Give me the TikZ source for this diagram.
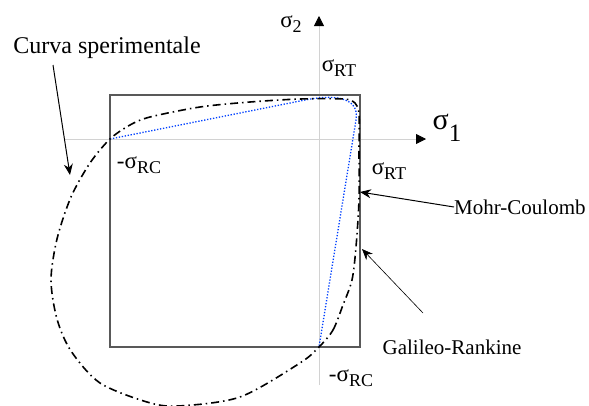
\documentclass[tikz,border=0pt]{standalone}
\usepackage{fontspec}
\setmainfont{Liberation Serif}
\usetikzlibrary{arrows.meta}
\newcommand{\sgm}[1]{σ\raisebox{-0.22em}{\fontsize{18}{18}\selectfont #1}}

\begin{document}
\begin{tikzpicture}[x=1pt, y=1pt, >={Stealth[length=11pt,width=9pt]},
    axis/.style={gray!35, line width=0.8pt},
    axtip/.style={-{Triangle[length=10pt,width=10pt,color=black]}},
    lbl/.style={font=\fontsize{23}{26}\selectfont, inner sep=0pt},
    note/.style={font=\fontsize{21}{25}\selectfont, inner sep=0pt}]
  \useasboundingbox (-319,-266) rectangle (270,139);
  \draw[axis, axtip] (-255,0) -- (107,0);
  \draw[axis, axtip] (0,-246) -- (0,123);
  \draw[gray!70!black, line width=1.5pt] (-209,-208) rectangle (41,44);
  \draw[blue!75!cyan, line width=1.3pt, dash pattern=on 1.3pt off 1.7pt]
        (-209,0) -- (-14,39) .. controls (11,44) and (41,44) .. (37,19) -- (0,-208);
  \draw[black, line width=1.6pt, dash pattern=on 8pt off 4pt on 1.5pt off 4pt]
        plot[smooth cycle] coordinates {(0,-208) (14,-191) (24,-166) (33,-141)
        (37,-108) (40,-61) (40,-11) (40,25) (36,36) (25,40) (-19,40) (-69,37)
        (-119,32) (-169,22) (-189,14) (-209,0) (-229,-24) (-248,-58) (-262,-100)
        (-268,-141) (-262,-180) (-248,-212) (-219,-244) (-172,-263) (-141,-267)
        (-79,-258) (-19,-224)};
  \node[lbl] (s2) at (-28,115) {\sgm{2}};
  \node[font=\fontsize{30}{32}\selectfont, inner sep=0pt] (s1) at (128,11)
        {σ\raisebox{-0.4em}{\fontsize{25}{25}\selectfont 1}};
  \node[lbl] (rtup) at (20,71) {\sgm{RT}};
  \node[lbl] (rtright) at (70,-32) {\sgm{RT}};
  \node[lbl] (rcleft) at (-180,-26) {-\sgm{RC}};
  \node[lbl] (rcdown) at (32,-239) {-\sgm{RC}};
  \node[font=\fontsize{24}{28}\selectfont, inner sep=0pt] (curva) at (-212,91)
        {Curva sperimentale};
  \node[note, anchor=west] (mc) at (135,-68) {Mohr-Coulomb};
  \node[note] (gr) at (133,-208) {Galileo-Rankine};
  \coordinate (curvatail) at (-266,74);
  \coordinate (curvatip) at (-249,-36);
  \coordinate (mctip) at (41,-53);
  \coordinate (grtail) at (104,-174);
  \coordinate (grtip) at (43,-110);
  \draw[->, line width=1pt] (curvatail) -- (curvatip);
  \draw[->, line width=1pt] (mc.west) -- (mctip);
  \draw[->, line width=0.6pt] (grtail) -- (grtip);
\end{tikzpicture}
\end{document}
